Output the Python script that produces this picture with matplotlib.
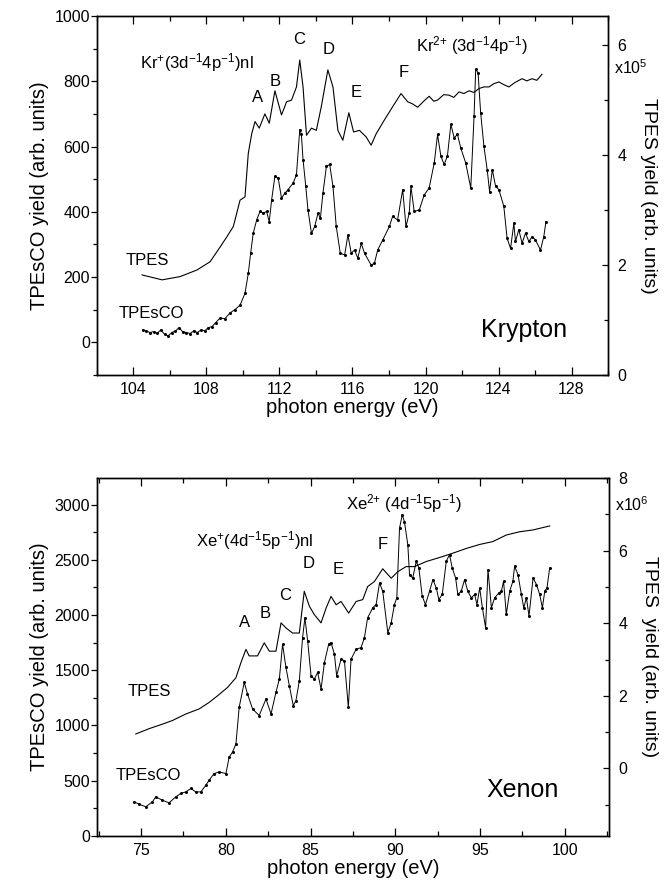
import matplotlib
matplotlib.use("Agg")
import matplotlib.pyplot as plt
from matplotlib.ticker import MultipleLocator

plt.rcParams['font.family'] = ['Liberation Sans', 'DejaVu Sans']
plt.rcParams['mathtext.fontset'] = 'custom'
plt.rcParams['mathtext.rm'] = 'Liberation Sans'
plt.rcParams['mathtext.it'] = 'Liberation Sans'
plt.rcParams['mathtext.default'] = 'regular'

# --- Krypton: TPES (right axis, x1e5) ---
kr_tpes_e = [104.47, 105.57, 106.56, 107.48, 108.2, 108.75, 109.11, 109.47, 109.84, 110.11,
             110.29, 110.48, 110.66, 110.89, 111.2, 111.44, 111.75, 112.11, 112.39, 112.66,
             112.93, 113.11, 113.29, 113.48, 113.75, 114.02, 114.29, 114.65, 114.93, 115.2,
             115.47, 115.8, 116.06, 116.38, 116.75, 117.02, 117.3, 117.75, 118.2, 118.66,
             119.02, 119.3, 119.57, 119.9, 120.2, 120.45, 120.66, 121.0, 121.29, 121.55,
             121.84, 122.1, 122.39, 122.65, 122.93, 123.2, 123.48, 123.75, 124.02, 124.3,
             124.57, 124.9, 125.29, 125.55, 125.84, 126.1, 126.38]
kr_tpes_y = [1.82, 1.73, 1.79, 1.91, 2.06, 2.33, 2.51, 2.70, 3.18, 3.24,
             4.03, 4.39, 4.61, 4.49, 4.75, 4.58, 5.17, 4.73, 4.97, 5.00,
             5.24, 5.73, 5.24, 4.36, 4.49, 4.45, 4.88, 5.55, 5.24, 4.45,
             4.27, 4.77, 4.42, 4.45, 4.33, 4.18, 4.39, 4.64, 4.88, 5.12,
             4.97, 4.93, 4.87, 4.98, 5.07, 4.98, 5.00, 5.10, 5.09, 5.05,
             5.15, 5.12, 5.17, 5.14, 5.21, 5.24, 5.24, 5.30, 5.33, 5.28,
             5.24, 5.32, 5.39, 5.35, 5.39, 5.36, 5.47]

# --- Krypton: TPEsCO (left axis) ---
kr_co_e = [104.5, 104.7, 104.9, 105.1, 105.3, 105.5, 105.7, 105.9, 106.1, 106.3,
           106.5, 106.7, 106.9, 107.1, 107.3, 107.5, 107.7, 107.9, 108.1, 108.3,
           108.5, 108.75, 109.0, 109.29, 109.55, 109.84, 110.11, 110.29, 110.42, 110.56,
           110.75, 110.93, 111.11, 111.29, 111.44, 111.57, 111.75, 111.93, 112.11, 112.29,
           112.47, 112.75, 112.93, 113.11, 113.2, 113.29, 113.44, 113.56, 113.75, 113.93,
           114.11, 114.24, 114.38, 114.57, 114.75, 114.93, 115.11, 115.33, 115.57, 115.75,
           115.93, 116.11, 116.29, 116.48, 116.66, 117.02, 117.2, 117.38, 117.66, 118.02,
           118.2, 118.47, 118.75, 118.93, 119.11, 119.2, 119.38, 119.66, 119.93, 120.2,
           120.48, 120.66, 120.84, 121.02, 121.2, 121.39, 121.57, 121.75, 121.93, 122.2,
           122.48, 122.66, 122.75, 122.88, 123.02, 123.2, 123.38, 123.51, 123.66, 123.84,
           124.02, 124.29, 124.47, 124.66, 124.84, 124.93, 125.11, 125.29, 125.48, 125.66,
           125.84, 126.02, 126.3, 126.48, 126.6]
kr_co_y = [38, 35, 30, 33, 28, 38, 25, 20, 30, 35,
           45, 32, 30, 27, 35, 30, 38, 35, 45, 48,
           60, 75, 72, 90, 100, 114, 150, 211, 273, 334,
           375, 401, 396, 401, 370, 437, 509, 503, 442, 457,
           468, 488, 514, 652, 637, 560, 478, 406, 334, 355,
           396, 380, 457, 539, 545, 478, 355, 273, 268, 329,
           273, 283, 258, 303, 273, 237, 242, 283, 314, 355,
           386, 375, 468, 355, 396, 478, 401, 406, 452, 473,
           550, 637, 571, 545, 571, 668, 627, 637, 596, 550,
           473, 693, 837, 826, 704, 601, 529, 462, 529, 478,
           468, 417, 319, 288, 365, 309, 345, 304, 335, 309,
           324, 314, 283, 324, 370]

# --- Xenon: TPES (right axis, x1e6) ---
xe_tpes_e = [74.69, 75.5, 76.26, 76.85, 77.64, 78.43, 79.02, 79.51, 80.1, 80.6,
             80.89, 81.19, 81.38, 81.87, 82.27, 82.57, 82.96, 83.26, 83.55, 83.94,
             84.34, 84.63, 84.93, 85.22, 85.62, 85.92, 86.21, 86.51, 86.8, 87.25,
             87.69, 88.08, 88.37, 88.77, 89.26, 89.76, 90.15, 90.64, 91.13, 91.83,
             92.61, 93.4, 94.19, 94.98, 95.76, 96.55, 97.34, 98.13, 99.11]
xe_tpes_y = [0.95, 1.10, 1.22, 1.32, 1.50, 1.64, 1.82, 2.00, 2.23, 2.50,
             2.91, 3.28, 3.10, 3.10, 3.46, 3.23, 3.23, 4.01, 3.87, 3.73,
             3.73, 4.88, 4.47, 4.24, 4.01, 4.42, 4.74, 4.51, 4.60, 4.28,
             4.60, 4.65, 5.01, 5.15, 5.50, 5.24, 5.42, 5.56, 5.56, 5.70,
             5.81, 5.93, 6.06, 6.17, 6.25, 6.43, 6.52, 6.57, 6.68]

# --- Xenon: TPEsCO (left axis) ---
xe_co_e = [74.59, 74.88, 75.28, 75.67, 75.87, 76.26, 76.65, 77.05, 77.35, 77.64,
           77.94, 78.23, 78.53, 78.82, 79.02, 79.31, 79.61, 80.01, 80.2, 80.4,
           80.6, 80.79, 81.09, 81.28, 81.58, 81.97, 82.37, 82.67, 82.96, 83.16,
           83.35, 83.55, 83.75, 83.98, 84.14, 84.34, 84.53, 84.67, 84.83, 85.03,
           85.22, 85.42, 85.62, 85.82, 86.07, 86.21, 86.41, 86.54, 86.8, 87.0,
           87.23, 87.39, 87.69, 87.98, 88.18, 88.37, 88.67, 88.87, 89.07, 89.26,
           89.56, 89.76, 89.95, 90.09, 90.25, 90.41, 90.54, 90.74, 90.84, 91.03,
           91.24, 91.39, 91.59, 91.78, 92.02, 92.22, 92.42, 92.57, 92.77, 93.01,
           93.2, 93.36, 93.56, 93.69, 93.89, 94.09, 94.28, 94.49, 94.68, 94.82,
           94.98, 95.14, 95.33, 95.47, 95.67, 95.86, 96.12, 96.26, 96.39, 96.55,
           96.75, 96.94, 97.04, 97.24, 97.44, 97.58, 97.74, 97.89, 98.13, 98.33,
           98.52, 98.68, 98.82, 98.95, 99.11]
xe_co_y = [309, 288, 264, 309, 354, 324, 300, 354, 385, 399,
           430, 399, 399, 459, 505, 565, 580, 565, 714, 759,
           835, 1165, 1390, 1286, 1150, 1090, 1240, 1105, 1300, 1420,
           1736, 1525, 1360, 1180, 1225, 1405, 1795, 1975, 1766, 1450,
           1420, 1480, 1330, 1570, 1736, 1750, 1645, 1450, 1600, 1585,
           1165, 1600, 1690, 1705, 1795, 1975, 2065, 2095, 2290, 2215,
           1840, 1930, 2095, 2155, 2786, 2907, 2845, 2636, 2366, 2335,
           2486, 2426, 2171, 2095, 2215, 2320, 2245, 2140, 2186, 2486,
           2546, 2426, 2335, 2186, 2215, 2320, 2215, 2155, 2186, 2095,
           2246, 2065, 1885, 2411, 2065, 2155, 2201, 2215, 2306, 2005,
           2215, 2306, 2441, 2366, 2186, 2065, 2155, 1990, 2335, 2276,
           2186, 2065, 2215, 2246, 2426]

fig = plt.figure(figsize=(6.72, 8.9), dpi=100)


def style_axes(ax, ax2, xmaj, xmin, ymaj, ymin, rmaj, rmin):
    ax.xaxis.set_major_locator(MultipleLocator(xmaj))
    ax.xaxis.set_minor_locator(MultipleLocator(xmin))
    ax.yaxis.set_major_locator(MultipleLocator(ymaj))
    ax.yaxis.set_minor_locator(MultipleLocator(ymin))
    ax2.yaxis.set_major_locator(MultipleLocator(rmaj))
    ax2.yaxis.set_minor_locator(MultipleLocator(rmin))
    ax.tick_params(axis='x', which='both', direction='in', top=True, labelsize=11.5, pad=5)
    ax.tick_params(axis='x', which='major', length=6, width=0.9)
    ax.tick_params(axis='x', which='minor', length=3.5, width=0.9)
    ax.tick_params(axis='y', which='both', direction='out', labelsize=11.5, pad=1)
    ax.tick_params(axis='y', which='major', length=4, width=0.9)
    ax.tick_params(axis='y', which='minor', length=3, width=0.9)
    ax2.tick_params(axis='y', which='both', direction='in', labelsize=11.5, pad=7)
    ax2.tick_params(axis='y', which='major', length=4, width=0.9)
    ax2.tick_params(axis='y', which='minor', length=3, width=0.9)
    for a in (ax, ax2):
        for s in a.spines.values():
            s.set_linewidth(1.0)
    ax.set_xlabel("photon energy (eV)", fontsize=14.5, labelpad=1)
    ax.set_ylabel("TPEsCO yield (arb. units)", fontsize=14.5, labelpad=4)


# ---------------- Krypton ----------------
ax1 = fig.add_axes([0.1443, 0.5787, 0.7605, 0.4033])
ax1r = ax1.twinx()
ax1.plot(kr_co_e, kr_co_y, '-', color='black', lw=0.7, marker='o', ms=1.2)
ax1r.plot(kr_tpes_e, kr_tpes_y, '-', color='black', lw=0.8)
ax1.set_xlim(102, 130)
ax1.set_ylim(-100, 1000)
ax1r.set_ylim(0, 6.53)
style_axes(ax1, ax1r, 4, 2, 200, 100, 2, 1)
ax1r.set_ylabel("TPES yield (arb. units)", fontsize=14, rotation=-90, labelpad=22)

ax1.text(107.5, 858, "Kr$^{+}$(3d$^{-1}$4p$^{-1}$)nl", fontsize=12, ha='center', va='center')
ax1.text(122.55, 911, "Kr$^{2{+}}$ (3d$^{-1}$4p$^{-1}$)", fontsize=12, ha='center', va='center')
for lab, xe, yv in [("A", 110.8, 751), ("B", 111.75, 800), ("C", 113.1, 929),
                    ("D", 114.7, 898), ("E", 116.2, 766), ("F", 118.8, 828)]:
    ax1.text(xe, yv, lab, fontsize=12, ha='center', va='center')
ax1.text(104.77, 252, "TPES", fontsize=12, ha='center', va='center')
ax1.text(105.0, 89, "TPEsCO", fontsize=12, ha='center', va='center')
ax1.text(125.4, 37, "Krypton", fontsize=18, ha='center', va='center')
ax1r.text(1.012, 0.855, "x10$^{5}$", transform=ax1r.transAxes, fontsize=11.5,
          ha='left', va='center')

# ---------------- Xenon ----------------
ax2 = fig.add_axes([0.1443, 0.0607, 0.7617, 0.4022])
ax2r = ax2.twinx()
ax2.plot(xe_co_e, xe_co_y, '-', color='black', lw=0.7, marker='o', ms=1.2)
ax2r.plot(xe_tpes_e, xe_tpes_y, '-', color='black', lw=0.8)
ax2.set_xlim(72.4, 102.6)
ax2.set_ylim(0, 3240)
ax2r.set_ylim(-1.86, 8)
style_axes(ax2, ax2r, 5, 2.5, 500, 250, 2, 1)
ax2r.set_ylabel("TPES  yield (arb. units)", fontsize=14, rotation=-90, labelpad=22)

ax2.text(81.68, 2676, "Xe$^{+}$(4d$^{-1}$5p$^{-1}$)nl", fontsize=12, ha='center', va='center')
ax2.text(90.48, 3009, "Xe$^{2{+}}$ (4d$^{-1}$5p$^{-1}$)", fontsize=12, ha='center', va='center')
for lab, xe, yv in [("A", 81.09, 1928), ("B", 82.33, 2018), ("C", 83.51, 2180),
                    ("D", 84.87, 2468), ("E", 86.66, 2412), ("F", 89.26, 2637)]:
    ax2.text(xe, yv, lab, fontsize=12, ha='center', va='center')
ax2.text(75.47, 1309, "TPES", fontsize=12, ha='center', va='center')
ax2.text(75.41, 550, "TPEsCO", fontsize=12, ha='center', va='center')
ax2.text(97.5, 414, "Xenon", fontsize=18, ha='center', va='center')
ax2r.text(1.012, 0.925, "x10$^{6}$", transform=ax2r.transAxes, fontsize=11.5,
          ha='left', va='center')

fig.savefig("out.png", dpi=100)
